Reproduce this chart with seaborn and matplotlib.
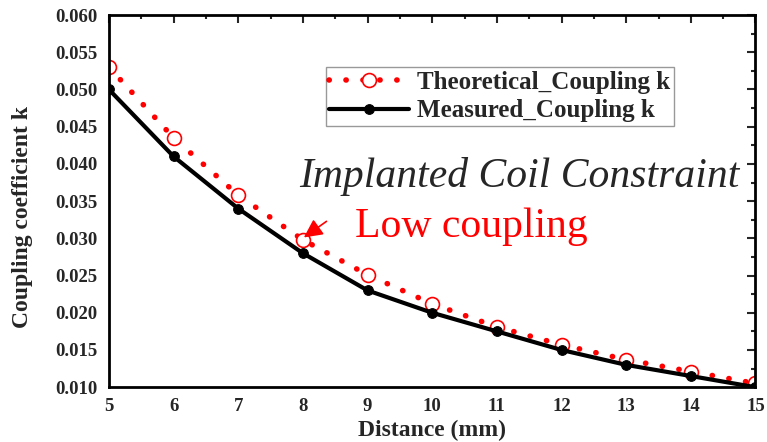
import numpy as np
import pandas as pd
import matplotlib
matplotlib.use("Agg")
import matplotlib.pyplot as plt
from matplotlib.ticker import MultipleLocator
import seaborn as sns

# Values
distance = [5, 6, 7, 8, 9, 10, 11, 12, 13, 14, 15]
theoretical_k = [0.0530, 0.0435, 0.0358, 0.0298, 0.0251, 0.0212, 0.0181, 0.0157, 0.0137, 0.0121, 0.0105]
measured_k = [0.0500, 0.0410, 0.0340, 0.0280, 0.0230, 0.0200, 0.0175, 0.0150, 0.0130, 0.0115, 0.0100]

df = pd.DataFrame({"Distance": distance, "Theoretical": theoretical_k, "Measured": measured_k})

sns.set_style("white")
plt.rcParams["font.family"] = ["Liberation Serif", "DejaVu Serif"]

fig = plt.figure(figsize=(7.67, 4.42), dpi=100)
ax = fig.add_axes([0.142, 0.124, 0.843, 0.842])

sns.lineplot(data=df, x="Distance", y="Theoretical", ax=ax, color="red", linestyle=(0, (0.05, 3.0)),
             linewidth=4, dash_capstyle="round", marker="o", markersize=10, markerfacecolor="white",
             markeredgecolor="red", markeredgewidth=1.2, label="Theoretical_Coupling k")
sns.lineplot(data=df, x="Distance", y="Measured", ax=ax, color="black", linewidth=3,
             marker="o", markersize=7, markerfacecolor="black", markeredgecolor="black",
             label="Measured_Coupling k")

ax.set_xlim(5, 15)
ax.set_ylim(0.010, 0.060)
ax.xaxis.set_major_locator(MultipleLocator(1))
ax.xaxis.set_minor_locator(MultipleLocator(0.5))
ax.yaxis.set_major_locator(MultipleLocator(0.005))
ax.yaxis.set_minor_locator(MultipleLocator(0.0025))
ax.yaxis.set_major_formatter(matplotlib.ticker.FormatStrFormatter("%.3f"))
ax.tick_params(which="both", direction="in", top=True, right=True, width=1.5)
ax.tick_params(which="major", length=6, labelsize=13.5, pad=8)
ax.tick_params(which="minor", length=3)
for lbl in ax.get_xticklabels() + ax.get_yticklabels():
    lbl.set_fontweight("bold")
for sp in ax.spines.values():
    sp.set_linewidth(2)
    sp.set_color("black")

ax.set_xlabel("Distance (mm)", fontsize=17, fontweight="bold", labelpad=3)
ax.set_ylabel("Coupling coefficient k", fontsize=17, fontweight="bold")
ax.yaxis.set_label_coords(-0.117, 0.457)

leg = ax.legend(loc="upper left", bbox_to_anchor=(0.335, 0.86), prop={"weight": "bold", "size": 18},
                frameon=True, fancybox=False, borderpad=0.15, labelspacing=0.22, handlelength=3.2,
                handletextpad=0.3, borderaxespad=0)
leg.get_frame().set_edgecolor("gray")
leg.get_frame().set_linewidth(1)

ax.text(11.35, 0.0383, "Implanted Coil Constraint", fontsize=30, fontstyle="italic",
        ha="center", va="center")
ax.text(10.6, 0.0315, "Low coupling", fontsize=30, color="red", ha="center", va="center")
ax.annotate("", xy=(7.98, 0.0299), xytext=(8.4, 0.0325),
            arrowprops=dict(arrowstyle="-|>", color="red", lw=1.2, mutation_scale=28))

fig.savefig("out.png", dpi=100)
